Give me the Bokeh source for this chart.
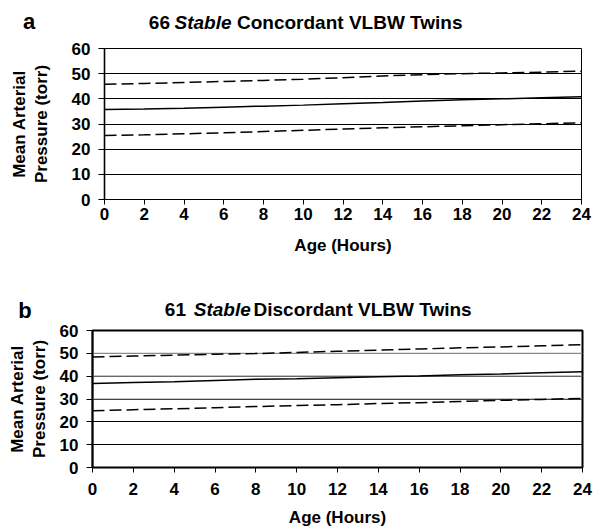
from bokeh.plotting import figure
from bokeh.models import Range1d, Span, FixedTicker, ColumnDataSource
from bokeh.core.properties import value
from bokeh.embed import file_html
from bokeh.resources import INLINE

# ---- data ----
hours = [0, 2, 4, 6, 8, 10, 12, 14, 16, 18, 20, 22, 24]

a_upper = [45.8, 46.1, 46.5, 46.9, 47.3, 47.8, 48.4, 49.1, 49.6, 50.0, 50.3, 50.6, 51.0]
a_mean = [35.8, 36.0, 36.3, 36.7, 37.1, 37.5, 38.0, 38.5, 39.1, 39.6, 40.0, 40.4, 40.8]
a_lower = [25.4, 25.7, 26.1, 26.5, 27.0, 27.5, 28.0, 28.5, 28.9, 29.3, 29.7, 30.1, 30.5]

b_upper = [48.4, 48.8, 49.2, 49.6, 49.9, 50.4, 50.9, 51.4, 51.9, 52.4, 52.8, 53.3, 53.8]
b_mean = [36.8, 37.2, 37.6, 38.1, 38.6, 38.9, 39.3, 39.7, 40.1, 40.6, 41.0, 41.5, 41.9]
b_lower = [24.9, 25.3, 25.7, 26.2, 26.7, 27.1, 27.5, 28.0, 28.4, 28.9, 29.4, 29.8, 30.3]

x_ticks = [0, 2, 4, 6, 8, 10, 12, 14, 16, 18, 20, 22, 24]
y_ticks = [0, 10, 20, 30, 40, 50, 60]

FONT = "Liberation Sans"
W = 593


def header(letter, count, kind, cfg):
    h = cfg["hh"]
    p = figure(width=W, height=h, output_backend="svg", toolbar_location=None,
               x_range=Range1d(0, W), y_range=Range1d(h, 0),
               x_axis_type=None, y_axis_type=None, min_border=0)
    p.outline_line_color = None
    p.grid.visible = False
    p.background_fill_color = "white"
    p.border_fill_color = "white"

    def t(x, y, txt, size, style="bold", align="left"):
        p.text(x=[x], y=[y], text=[txt], text_font=value(FONT), text_font_style=style,
               text_font_size=size, text_align=align, text_baseline="middle", text_color="black")

    t(cfg["letter_x"], cfg["letter_y"], letter, "22px", align="center")
    ty = cfg["title_y"]
    t(cfg["num_right"], ty, count, "19px", align="right")
    t(cfg["stable_x"], ty, "Stable", "19px", style="bold italic")
    t(cfg["rest_x"], ty, kind + " VLBW Twins", "19px")
    return p


def make_panel(upper, mean, lower, cfg):
    p = figure(width=W, height=cfg["height"], output_backend="svg",
               toolbar_location=None, x_range=Range1d(0, 24), y_range=Range1d(0, 60),
               min_border_left=cfg["ml"], min_border_right=cfg["mr"],
               min_border_top=cfg["mt"], min_border_bottom=cfg["mb"])
    p.background_fill_color = "white"
    p.border_fill_color = "white"
    p.outline_line_color = "black"
    p.outline_line_width = cfg["outline_w"]

    p.xgrid.visible = False
    p.ygrid.ticker = FixedTicker(ticks=y_ticks)
    p.ygrid.grid_line_color = "black"
    p.ygrid.grid_line_width = 1

    for g in cfg["gray_lines"]:
        p.add_layout(Span(location=g, dimension="width", line_color="#8a8a8a", line_width=1.2, level="underlay"))

    src = ColumnDataSource(dict(h=hours, up=upper, mn=mean, lo=lower))
    p.line("h", "up", source=src, line_color="black", line_width=1.5, line_dash="12 5")
    p.line("h", "mn", source=src, line_color="black", line_width=1.5)
    p.line("h", "lo", source=src, line_color="black", line_width=1.5, line_dash="12 5")

    xa = p.xaxis[0]
    xa.ticker = FixedTicker(ticks=x_ticks)
    xa.axis_line_color = "black"
    xa.axis_line_width = 1
    xa.major_tick_out = 5
    xa.major_tick_in = 0
    xa.minor_tick_out = 0
    xa.minor_tick_in = 0
    xa.major_label_standoff = cfg["x_standoff"]
    xa.major_label_text_font = FONT
    xa.major_label_text_font_style = "bold"
    xa.major_label_text_font_size = "17px"
    xa.major_label_text_color = "black"
    xa.axis_label = "Age (Hours)"
    xa.axis_label_text_font = FONT
    xa.axis_label_text_font_style = "bold"
    xa.axis_label_text_font_size = "17px"
    xa.axis_label_text_color = "black"
    xa.axis_label_standoff = cfg["xl_standoff"]

    ya = p.yaxis[0]
    ya.ticker = FixedTicker(ticks=y_ticks)
    ya.axis_line_color = "black"
    ya.axis_line_width = 1.6
    ya.major_tick_out = 6
    ya.major_tick_in = 0
    ya.minor_tick_out = 0
    ya.minor_tick_in = 0
    ya.major_label_standoff = 8
    ya.major_label_text_font = FONT
    ya.major_label_text_font_style = "bold"
    ya.major_label_text_font_size = "17px"
    ya.major_label_text_color = "black"
    ya.axis_label = "Mean Arterial\nPressure (torr)"
    ya.axis_label_text_font = FONT
    ya.axis_label_text_font_style = "bold"
    ya.axis_label_text_font_size = "17px"
    ya.axis_label_text_color = "black"
    ya.axis_label_text_line_height = 1.15
    ya.axis_label_standoff = cfg["yl_standoff"]
    return p


cfg_a = dict(hh=40, height=217, ml=104, mr=12, mt=8, mb=57, outline_w=1,
             gray_lines=[], x_standoff=3, xl_standoff=13, yl_standoff=18,
             letter_x=28.5, letter_y=21, num_right=169.5, stable_x=174, rest_x=236.5, title_y=22)
cfg_b = dict(hh=65, height=207, ml=92, mr=11, mt=8, mb=61, outline_w=2,
             gray_lines=[30, 40, 50], x_standoff=10, xl_standoff=10, yl_standoff=8,
             letter_x=24.5, letter_y=53, num_right=185.5, stable_x=193.3, rest_x=253, title_y=52)

ha = header("a", "66", "Concordant", cfg_a)
pa = make_panel(a_upper, a_mean, a_lower, cfg_a)
hb = header("b", "61", "Discordant", cfg_b)
pb = make_panel(b_upper, b_mean, b_lower, cfg_b)

open("out.html", "w").write(file_html([ha, pa, hb, pb], INLINE))
